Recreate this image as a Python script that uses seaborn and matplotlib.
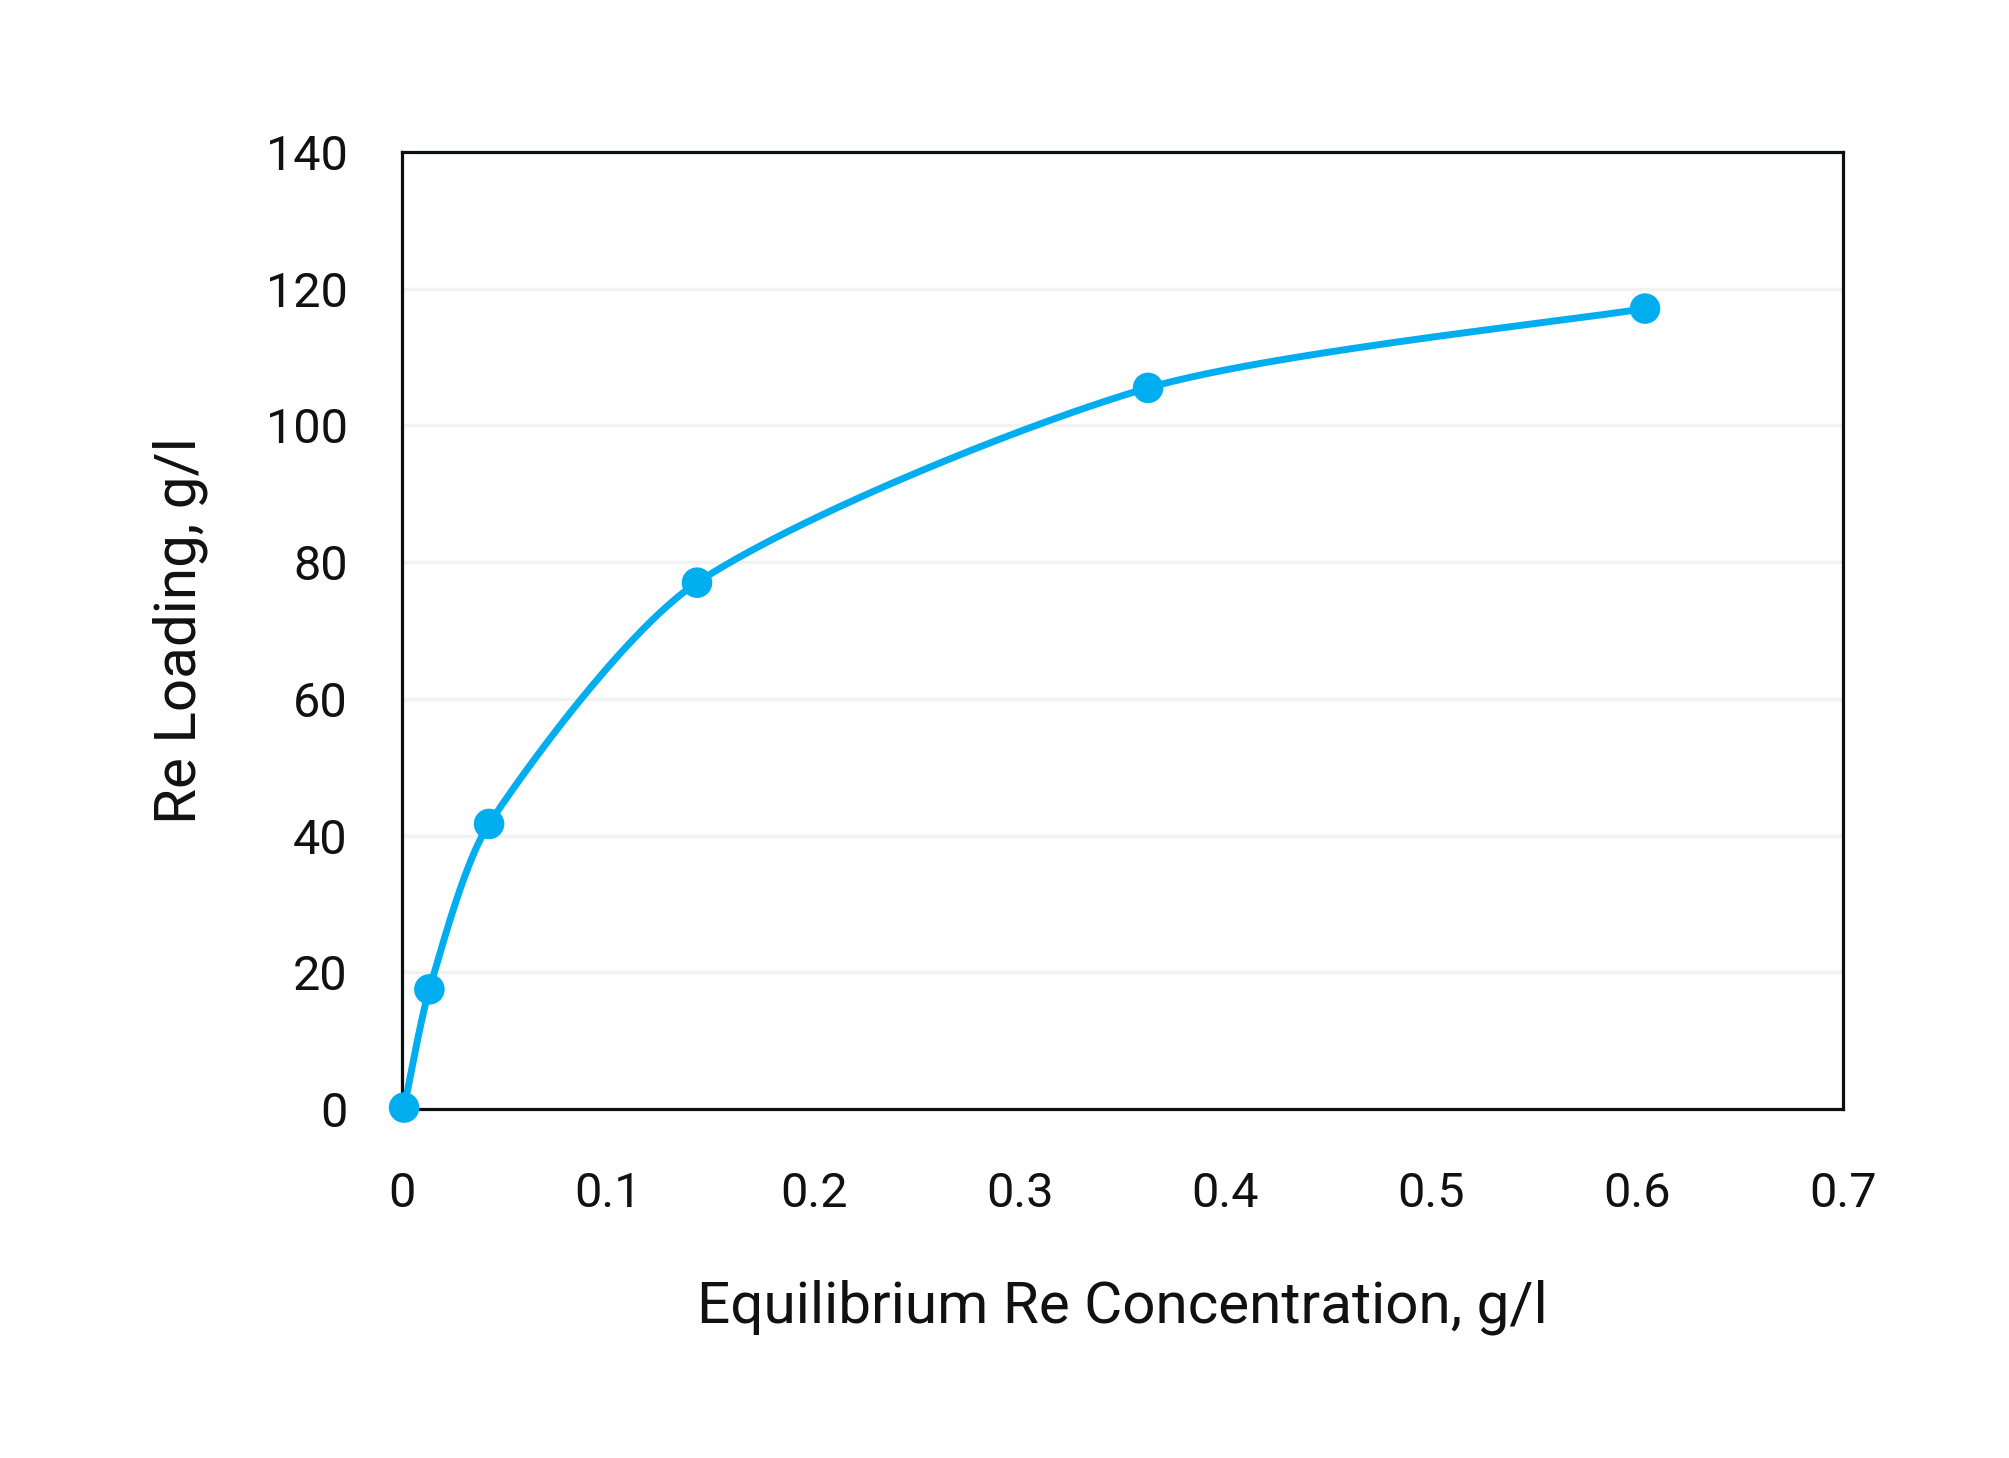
import numpy as np
import pandas as pd
import matplotlib
matplotlib.use("Agg")
import matplotlib.pyplot as plt
import seaborn as sns

# Data
conc = [0.001, 0.0133, 0.0423, 0.1433, 0.3624, 0.6038]
loading = [0.2, 17.5, 41.7, 77.0, 105.5, 117.1]
xticks = [0, 0.1, 0.2, 0.3, 0.4, 0.5, 0.6, 0.7]
xticklabels = ["0", "0.1", "0.2", "0.3", "0.4", "0.5", "0.6", "0.7"]
yticks = [0, 20, 40, 60, 80, 100, 120, 140]
xlabel = "Equilibrium Re Concentration, g/l"
ylabel = "Re Loading, g/l"

COLOR = "#00AEEF"

sns.set_theme(style="white")
plt.rcParams['font.family'] = ['Roboto', 'DejaVu Sans']

fig = plt.figure(figsize=(20.09, 14.58), dpi=100)
ax = fig.add_axes([0.2001, 0.2394, 0.7173, 0.6563])
XMAX, YMAX = 0.7, 140.0
ax.set_xlim(0, XMAX)
ax.set_ylim(0, YMAX)

# Excel-like smoothed line: Catmull-Rom Bezier (tension 1/6) in screen space,
# with control handles limited relative to the segment length
W, H = 1441.0, 957.0
px = np.array(conc) / XMAX * W
py = np.array(loading) / YMAX * H
P = np.column_stack([px, py])
n = len(P)
CAP = 0.25
curve = []
t = np.linspace(0, 1, 80)
for i in range(n - 1):
    p0 = P[i - 1] if i > 0 else P[i]
    p1 = P[i]
    p2 = P[i + 1]
    p3 = P[i + 2] if i + 2 < n else P[i + 1]
    d = np.linalg.norm(p2 - p1)
    h1 = (p2 - p0) / 6.0
    h2 = (p3 - p1) / 6.0
    l1, l2 = np.linalg.norm(h1), np.linalg.norm(h2)
    if l1 > CAP * d:
        h1 = h1 * CAP * d / l1
    if l2 > CAP * d:
        h2 = h2 * CAP * d / l2
    c1 = p1 + h1
    c2 = p2 - h2
    seg = ((1 - t) ** 3)[:, None] * p1 + (3 * (1 - t) ** 2 * t)[:, None] * c1 \
        + (3 * (1 - t) * t ** 2)[:, None] * c2 + (t ** 3)[:, None] * p2
    curve.append(seg if i == 0 else seg[1:])
curve = np.vstack(curve)
smooth = pd.DataFrame({"x": curve[:, 0] / W * XMAX, "y": curve[:, 1] / H * YMAX})
pts = pd.DataFrame({"x": conc, "y": loading})

for yv in yticks[1:-1]:
    ax.axhline(yv, color="#f2f2f2", lw=2.5, zorder=0)

sns.lineplot(data=smooth, x="x", y="y", sort=False, estimator=None, ax=ax,
             color=COLOR, lw=5.0, zorder=3)
sns.scatterplot(data=pts, x="x", y="y", ax=ax, color=COLOR, s=22 ** 2,
                edgecolor="none", zorder=4, clip_on=False)

ax.set_xticks(xticks)
ax.set_xticklabels(xticklabels)
ax.set_yticks(yticks)
ax.tick_params(axis="x", length=0, pad=45, labelsize=35, labelcolor="#111111")
ax.tick_params(axis="y", length=0, pad=39, labelsize=35, labelcolor="#111111")
ax.set_xlabel(xlabel, fontsize=42, labelpad=44.5, color="#111111")
ax.set_ylabel(ylabel, fontsize=42, labelpad=42, color="#111111")
ax.grid(False)
for s in ax.spines.values():
    s.set_visible(True)
    s.set_color("#0a0f0f")
    s.set_linewidth(2.3)

fig.savefig("out.png", dpi=100, facecolor="white")
